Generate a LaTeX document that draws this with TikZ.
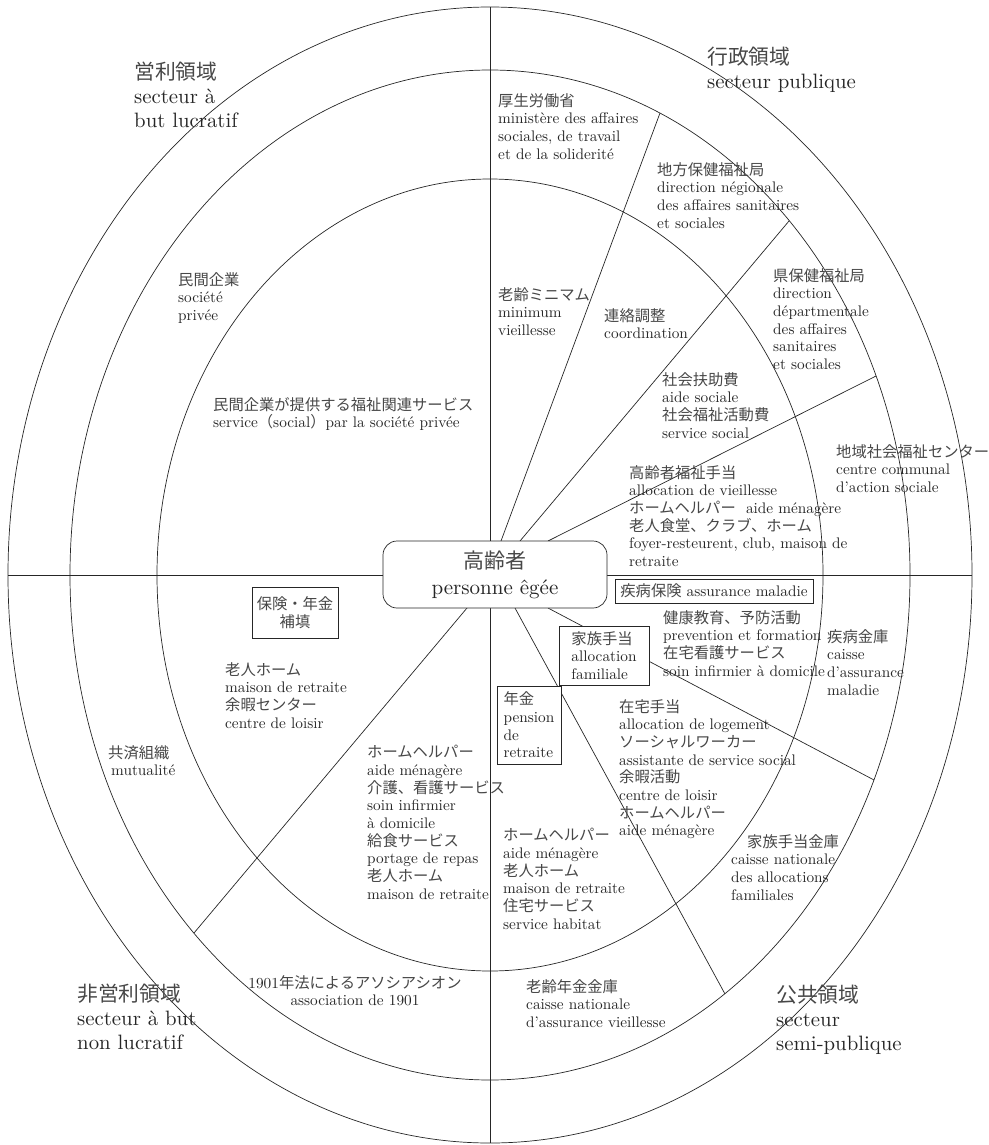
\documentclass[tikz,border=0pt]{standalone}
\usepackage{fontspec}
\setmainfont{lmroman10-regular.otf}
\newfontfamily\Jfont{Noto Sans CJK JP}
\newcommand{\jt}[1]{{\Jfont\color{black!72}#1}}
\tikzset{
  ln/.style={line width=0.7pt, draw=black!85},
  sm/.style={font=\fontsize{15.3}{17.7}\selectfont, align=left, inner sep=0pt, anchor=north west, text=black!85, execute at begin node={\rule{0pt}{13.5pt}}},
  big/.style={font=\fontsize{20.8}{24}\selectfont, align=left, inner sep=0pt, anchor=north west, text=black!85, execute at begin node={\rule{0pt}{19pt}}},
  bx/.style={draw=black!85, line width=0.7pt, fill=white, inner sep=0pt, font=\fontsize{15.3}{17.7}\selectfont, text=black!85},
}
\begin{document}
\begin{tikzpicture}[x=1pt,y=-1pt]
\useasboundingbox (0,0) rectangle (988,1145);
% ellipses
\draw[ln] (490,575) ellipse [x radius=482pt, y radius=568pt];
\draw[ln] (490,575) ellipse [x radius=420pt, y radius=505pt];
\draw[ln] (490,575) ellipse [x radius=333pt, y radius=396pt];
% axes
\coordinate (vt) at (490,7);
\coordinate (vb) at (490,1143);
\coordinate (hl) at (8,575);
\coordinate (hr) at (972,575);
\draw[ln] (vt) -- (vb);
\draw[ln] (hl) -- (hr);
% radial lines
\coordinate (s1) at (501,541); \coordinate (e1) at (660,113);
\coordinate (s2) at (520,541); \coordinate (e2) at (789,221);
\coordinate (s3) at (548,541); \coordinate (e3) at (876,376);
\coordinate (s4) at (548,608); \coordinate (e4) at (874,780);
\coordinate (s5) at (515,608); \coordinate (e5) at (725,994);
\coordinate (s6) at (467,608); \coordinate (e6) at (194,933);
\draw[ln] (s1) -- (e1);
\draw[ln] (s2) -- (e2);
\draw[ln] (s3) -- (e3);
\draw[ln] (s4) -- (e4);
\draw[ln] (s5) -- (e5);
\draw[ln] (s6) -- (e6);
% central node
\node[draw=black!85, line width=0.7pt, fill=white, rounded corners=14pt, minimum width=224pt, minimum height=67pt, inner sep=0pt, align=center, text=black!85, font=\fontsize{21}{26}\selectfont] (elder) at (495,574.5) {\jt{高齢者}\\personne êgée};
% boxes
\node[bx, minimum width=198pt, minimum height=24pt] (k1) at (714,591) {\jt{疾病保険} assurance maladie};
\node[bx, minimum width=90pt, minimum height=59pt, align=left] (k2) at (604,655.5) {\jt{家族手当}\\allocation\\familiale};
\node[bx, minimum width=64pt, minimum height=78pt, align=left] (k3) at (529,725) {\jt{年金}\\pension\\de\\retraite};
\node[bx, minimum width=86pt, minimum height=51pt, align=center] (k4) at (295,612.5) {\jt{保険・年金}\\\jt{補填}};
% sector titles
\node[big] (t1) at (134,62) {\jt{営利領域}\\secteur à\\but lucratif};
\node[big] (t2) at (707,47) {\jt{行政領域}\\secteur publique};
\node[big] (t3) at (77,984) {\jt{非営利領域}\\secteur à but\\non lucratif};
\node[big] (t4) at (776,985) {\jt{公共領域}\\secteur\\semi-publique};
% public sector
\node[sm] (a1) at (498,93) {\jt{厚生労働省}\\ministère des affaires\\sociales, de travail\\et de la soliderité};
\node[sm] (a2) at (657,162) {\jt{地方保健福祉局}\\direction négionale\\des affaires sanitaires\\et sociales};
\node[sm] (a3) at (773,268) {\jt{県保健福祉局}\\direction\\départmentale\\des affaires\\sanitaires\\et sociales};
\node[sm] (a4) at (498,287) {\jt{老齢ミニマム}\\minimum\\vieillesse};
\node[sm] (a5) at (604,308) {\jt{連絡調整}\\coordination};
\node[sm] (a6) at (662,372) {\jt{社会扶助費}\\aide sociale\\\jt{社会福祉活動費}\\service social};
\node[sm] (a7) at (836,444) {\jt{地域社会福祉センター}\\centre communal\\d’action sociale};
\node[sm] (a8) at (629,465) {\jt{高齢者福祉手当}\\allocation de vieillesse\\\jt{ホームヘルパー}\ \ aide ménagère\\\jt{老人食堂、クラブ、ホーム}\\foyer-resteurent, club, maison de\\retraite};
% private sector
\node[sm] (b1) at (178,272) {\jt{民間企業}\\société\\privée};
\node[sm] (b2) at (213,397) {\jt{民間企業が提供する福祉関連サービス}\\service\jt{（}social\jt{）}par la société privée};
% semi-public sector
\node[sm] (c1) at (663,610) {\jt{健康教育、予防活動}\\prevention et formation\\\jt{在宅看護サービス}\\soin infirmier à domicile};
\node[sm] (c2) at (827,629) {\jt{疾病金庫}\\caisse\\d’assurance\\maladie};
\node[sm] (c3) at (619,699) {\jt{在宅手当}\\allocation de logement\\\jt{ソーシャルワーカー}\\assistante de service social\\\jt{余暇活動}\\centre de loisir\\\jt{ホームヘルパー}\\aide ménagère};
\node[sm] (c4) at (731,834) {\hspace*{16pt}\jt{家族手当金庫}\\caisse nationale\\des allocations\\familiales};
\node[sm] (c5) at (503,828) {\jt{ホームヘルパー}\\aide ménagère\\\jt{老人ホーム}\\maison de retraite\\\jt{住宅サービス}\\service habitat};
\node[sm] (c6) at (526,979) {\jt{老齢年金金庫}\\caisse nationale\\d’assurance vieillesse};
% non-profit sector
\node[sm, anchor=north, align=center] (d1) at (355,975) {1901\jt{年法によるアソシアシオン}\\association de 1901};
\node[sm] (d2) at (108,745) {\jt{共済組織}\\\hspace*{3pt}mutualité};
\node[sm] (d3) at (225,662) {\jt{老人ホーム}\\maison de retraite\\\jt{余暇センター}\\centre de loisir};
\node[sm] (d4) at (367,745) {\jt{ホームヘルパー}\\aide ménagère\\\jt{介護、看護サービス}\\soin infirmier\\à domicile\\\jt{給食サービス}\\portage de repas\\\jt{老人ホーム}\\maison de retraite};
\end{tikzpicture}
\end{document}
